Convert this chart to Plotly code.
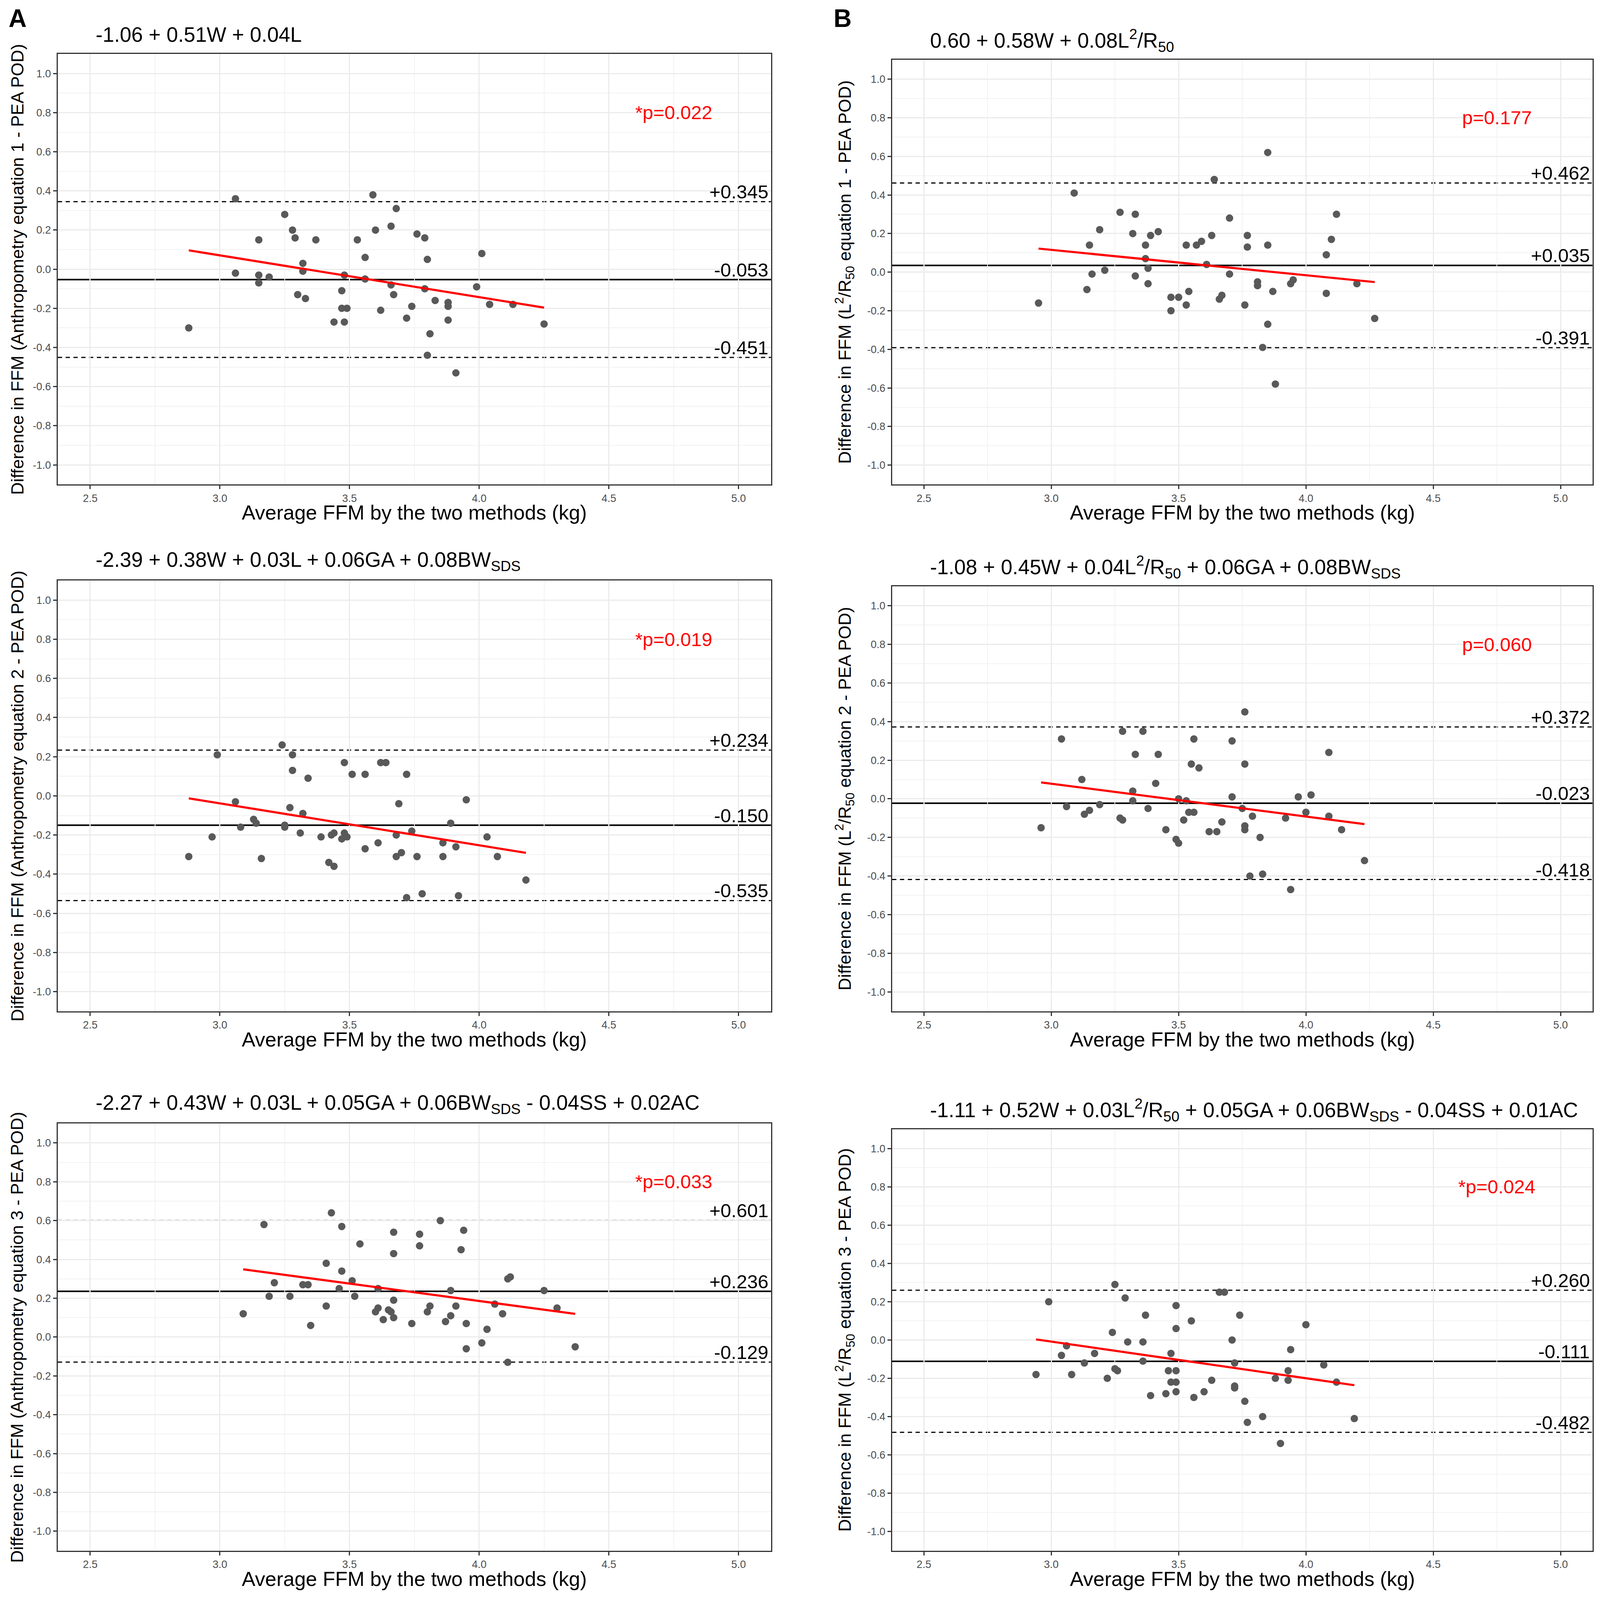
import numpy as np
import plotly.graph_objects as go

# ---------------- data ----------------
x_ticks = [2.5, 3.0, 3.5, 4.0, 4.5, 5.0]
y_ticks = [-1.0, -0.8, -0.6, -0.4, -0.2, 0.0, 0.2, 0.4, 0.6, 0.8, 1.0]

# A1 : anthropometry equation 1
a1_x = [3.06, 3.59, 3.68, 3.25, 3.28, 3.60, 3.66, 3.15, 3.29, 3.37, 3.53, 3.76, 3.79, 4.01, 3.56, 3.80, 3.32,
        3.32, 3.06, 3.15, 3.19, 3.15, 3.48, 3.56, 3.66, 3.79, 3.99, 3.47, 3.30, 3.33, 3.67, 3.83, 3.88, 3.88,
        3.74, 4.04, 4.13, 3.47, 3.49, 3.62, 3.72, 3.88, 3.44, 3.48, 4.25, 2.88, 3.81, 3.80, 3.91]
a1_y = [0.36, 0.38, 0.31, 0.28, 0.20, 0.20, 0.22, 0.15, 0.16, 0.15, 0.15, 0.18, 0.16, 0.08, 0.06, 0.05, 0.03,
        -0.01, -0.02, -0.03, -0.04, -0.07, -0.03, -0.05, -0.08, -0.10, -0.09, -0.11, -0.13, -0.15, -0.13, -0.16,
        -0.17, -0.19, -0.19, -0.18, -0.18, -0.20, -0.20, -0.21, -0.25, -0.26, -0.27, -0.27, -0.28, -0.30, -0.33,
        -0.44, -0.53]
a1_lines = [0.345, -0.053, -0.451]

# B1 : L2/R50 equation 1
b1_x = [3.85, 3.64, 3.09, 3.27, 3.33, 4.12, 3.70, 3.19, 3.32, 3.39, 3.42, 3.63, 3.77, 4.10, 3.15, 3.37, 3.53,
        3.57, 3.59, 3.77, 3.85, 4.08, 3.37, 3.61, 3.16, 3.21, 3.38, 3.33, 3.70, 3.38, 3.81, 3.81, 3.95, 3.94,
        4.20, 3.14, 3.54, 3.87, 4.08, 3.47, 3.50, 3.67, 3.66, 2.95, 3.53, 3.76, 3.47, 4.27, 3.85, 3.83, 3.88]
b1_y = [0.62, 0.48, 0.41, 0.31, 0.30, 0.30, 0.28, 0.22, 0.20, 0.19, 0.21, 0.19, 0.19, 0.17, 0.14, 0.14, 0.14,
        0.14, 0.16, 0.13, 0.14, 0.09, 0.07, 0.04, -0.01, 0.01, 0.02, -0.02, -0.01, -0.06, -0.05, -0.07, -0.04,
        -0.06, -0.06, -0.09, -0.10, -0.10, -0.11, -0.13, -0.13, -0.12, -0.14, -0.16, -0.17, -0.17, -0.20, -0.24,
        -0.27, -0.39, -0.58]
b1_lines = [0.462, 0.035, -0.391]

# A2 : anthropometry equation 2
a2_x = [3.24, 2.99, 3.28, 3.48, 3.62, 3.64, 3.51, 3.56, 3.72, 3.28, 3.34, 3.06, 3.69, 3.95, 3.27, 3.32, 3.13,
        3.14, 3.89, 3.25, 3.25, 3.08, 3.31, 3.74, 3.68, 3.44, 3.43, 3.48, 3.47, 3.49, 3.39, 2.97, 4.03, 3.86,
        3.61, 3.91, 3.56, 3.70, 3.68, 3.76, 3.86, 4.07, 2.88, 3.16, 3.42, 3.44, 4.18, 3.78, 3.92, 3.72]
a2_y = [0.26, 0.21, 0.21, 0.17, 0.17, 0.17, 0.11, 0.11, 0.11, 0.13, 0.09, -0.03, -0.04, -0.02, -0.06, -0.09,
        -0.12, -0.14, -0.14, -0.15, -0.16, -0.16, -0.19, -0.18, -0.20, -0.19, -0.20, -0.19, -0.22, -0.21, -0.21,
        -0.21, -0.21, -0.24, -0.24, -0.26, -0.27, -0.29, -0.31, -0.31, -0.31, -0.31, -0.31, -0.32, -0.34, -0.36,
        -0.43, -0.50, -0.51, -0.52]
a2_lines = [0.234, -0.150, -0.535]

# B2 : L2/R50 equation 2
b2_x = [3.76, 3.28, 3.36, 3.04, 3.56, 3.71, 4.09, 3.33, 3.42, 3.55, 3.58, 3.76, 3.12, 3.41, 3.32, 3.71, 3.97,
        4.02, 3.50, 3.53, 3.32, 3.06, 3.19, 3.38, 3.75, 3.15, 3.13, 3.54, 3.56, 4.00, 3.79, 3.92, 4.09, 3.27,
        3.28, 3.52, 3.67, 3.76, 3.76, 2.96, 3.45, 3.62, 3.65, 4.14, 3.82, 3.49, 3.50, 4.23, 3.83, 3.78, 3.94]
b2_y = [0.45, 0.35, 0.35, 0.31, 0.31, 0.30, 0.24, 0.23, 0.23, 0.18, 0.16, 0.18, 0.10, 0.08, 0.04, 0.01, 0.01,
        0.02, 0.00, -0.01, -0.01, -0.04, -0.03, -0.05, -0.05, -0.06, -0.08, -0.07, -0.07, -0.07, -0.09, -0.10,
        -0.09, -0.10, -0.11, -0.11, -0.12, -0.14, -0.16, -0.15, -0.16, -0.17, -0.17, -0.16, -0.20, -0.21, -0.23,
        -0.32, -0.39, -0.40, -0.47]
b2_lines = [0.372, -0.023, -0.418]

# A3 : anthropometry equation 3
a3_x = [3.43, 3.85, 3.17, 3.47, 3.67, 3.94, 3.77, 3.54, 3.77, 3.93, 3.67, 3.41, 3.47, 4.12, 4.11, 3.21, 3.51,
        3.32, 3.34, 3.46, 3.61, 3.89, 4.25, 3.19, 3.27, 3.52, 3.67, 4.06, 3.41, 3.81, 3.61, 3.91, 4.30, 3.60,
        3.65, 3.66, 3.80, 3.09, 4.09, 3.89, 3.63, 3.67, 3.87, 3.95, 3.74, 3.35, 4.03, 4.01, 4.37, 3.95, 4.11]
a3_y = [0.64, 0.60, 0.58, 0.57, 0.54, 0.55, 0.53, 0.48, 0.47, 0.45, 0.43, 0.38, 0.34, 0.31, 0.30, 0.28, 0.29,
        0.27, 0.27, 0.25, 0.25, 0.24, 0.24, 0.21, 0.21, 0.21, 0.19, 0.17, 0.16, 0.16, 0.15, 0.16, 0.15, 0.13,
        0.14, 0.13, 0.13, 0.12, 0.12, 0.11, 0.09, 0.10, 0.08, 0.07, 0.07, 0.06, 0.04, -0.03, -0.05, -0.06, -0.13]
a3_lines = [0.601, 0.236, -0.129]

# B3 : L2/R50 equation 3
b3_x = [3.25, 3.66, 3.68, 2.99, 3.29, 3.49, 3.37, 3.74, 3.55, 4.00, 3.49, 3.24, 3.71, 3.30, 3.36, 3.94, 3.06,
        3.04, 3.17, 3.47, 3.13, 3.36, 3.72, 4.07, 2.94, 3.08, 3.25, 3.26, 3.46, 3.49, 3.93, 3.22, 3.63, 3.88,
        3.93, 4.12, 3.47, 3.49, 3.72, 3.72, 3.49, 3.60, 3.39, 3.45, 3.56, 3.76, 3.83, 3.77, 4.19, 3.90]
b3_y = [0.29, 0.25, 0.25, 0.20, 0.22, 0.18, 0.13, 0.13, 0.10, 0.08, 0.06, 0.04, 0.00, -0.01, -0.01, -0.05,
        -0.03, -0.08, -0.07, -0.07, -0.12, -0.11, -0.12, -0.13, -0.18, -0.18, -0.15, -0.16, -0.16, -0.16, -0.16,
        -0.20, -0.21, -0.20, -0.21, -0.22, -0.22, -0.22, -0.24, -0.25, -0.27, -0.27, -0.29, -0.28, -0.30, -0.32,
        -0.40, -0.43, -0.41, -0.54]
b3_lines = [0.260, -0.111, -0.482]

equations = [
    "-1.06 + 0.51W + 0.04L",
    "0.60 + 0.58W + 0.08L<sup>2</sup>/R<sub>50</sub>",
    "-2.39 + 0.38W + 0.03L + 0.06GA + 0.08BW<sub>SDS</sub>",
    "-1.08 + 0.45W + 0.04L<sup>2</sup>/R<sub>50</sub> + 0.06GA + 0.08BW<sub>SDS</sub>",
    "-2.27 + 0.43W + 0.03L + 0.05GA + 0.06BW<sub>SDS</sub> - 0.04SS + 0.02AC",
    "-1.11 + 0.52W + 0.03L<sup>2</sup>/R<sub>50</sub> + 0.05GA + 0.06BW<sub>SDS</sub> - 0.04SS + 0.01AC",
]
p_labels = ["*p=0.022", "p=0.177", "*p=0.019", "p=0.060", "*p=0.033", "*p=0.024"]
y_titles = [
    "Difference in FFM (Anthropometry equation 1 - PEA POD)",
    "Difference in FFM (L<sup>2</sup>/R<sub>50</sub> equation 1 - PEA POD)",
    "Difference in FFM (Anthropometry equation 2 - PEA POD)",
    "Difference in FFM (L<sup>2</sup>/R<sub>50</sub> equation 2 - PEA POD)",
    "Difference in FFM (Anthropometry equation 3 - PEA POD)",
    "Difference in FFM (L<sup>2</sup>/R<sub>50</sub> equation 3 - PEA POD)",
]
x_title = "Average FFM by the two methods (kg)"

# ---------------- layout ----------------
FONT = "Liberation Sans, Arial, sans-serif"
col_a = [0.0343, 0.4818]
col_b = [0.5578, 0.9972]
dom_y = [[0.6980, 0.9681], [0.6980, 0.9644],
         [0.3675, 0.6377], [0.3675, 0.6340],
         [0.0290, 0.2970], [0.0290, 0.2933]]

panels = [
    (a1_x, a1_y, a1_lines), (b1_x, b1_y, b1_lines),
    (a2_x, a2_y, a2_lines), (b2_x, b2_y, b2_lines),
    (a3_x, a3_y, a3_lines), (b3_x, b3_y, b3_lines),
]

fig = go.Figure()
layout_axes = {}

for i, (px, py, lines) in enumerate(panels):
    n = i + 1
    xa = "x" if n == 1 else "x%d" % n
    ya = "y" if n == 1 else "y%d" % n
    col_b_side = i % 2 == 1
    dom_x = col_b if col_b_side else col_a

    fig.add_trace(go.Scatter(x=px, y=py, mode="markers", xaxis=xa, yaxis=ya,
                             marker=dict(color="#595959", size=19, line=dict(width=0)),
                             showlegend=False, hoverinfo="skip"))

    # linear fit of the points (red line)
    k, b = np.polyfit(px, py, 1)
    xs = np.array([min(px), max(px)])
    fig.add_trace(go.Scatter(x=xs, y=k * xs + b, mode="lines", xaxis=xa, yaxis=ya,
                             line=dict(color="#ff0000", width=5.5), showlegend=False, hoverinfo="skip"))

    # mean and limits of agreement
    for v, dash, wd in zip(lines, ["11px,9px", "solid", "11px,9px"], [3, 4, 3]):
        fig.add_shape(type="line", xref=xa + " domain", x0=0, x1=1, yref=ya, y0=v, y1=v,
                      line=dict(color="black", width=wd, dash=dash), layer="below")
        fig.add_annotation(text="%+.3f" % v, xref=xa + " domain", yref=ya, x=1, y=v,
                           xanchor="right", yanchor="bottom", xshift=-5, yshift=-4, showarrow=False,
                           font=dict(family=FONT, size=49, color="black"))

    fig.add_annotation(text=p_labels[i], xref=xa, yref=ya, x=4.75, y=0.8, showarrow=False,
                       xanchor="center", yanchor="middle", font=dict(family=FONT, size=49, color="#ff0000"))

    fig.add_annotation(text=equations[i], xref=xa + " domain", yref=ya + " domain", x=0, y=1,
                       xanchor="left", yanchor="middle", xshift=95, yshift=50, showarrow=False,
                       font=dict(family=FONT, size=53, color="black"))

    fig.add_annotation(text=y_titles[i], xref=xa + " domain", yref=ya + " domain", x=0, y=0.5,
                       textangle=-90, xanchor="center", yanchor="middle",
                       xshift=-122 if col_b_side else -104, showarrow=False,
                       font=dict(family=FONT, size=45, color="black"))

    fig.add_annotation(text=x_title, xref=xa + " domain", yref=ya + " domain", x=0.5, y=0,
                       xanchor="center", yanchor="middle", yshift=-72, showarrow=False,
                       font=dict(family=FONT, size=52, color="black"))

    common = dict(showline=True, mirror=True, linecolor="#333333", linewidth=3,
                  ticks="outside", ticklen=9, tickwidth=3, tickcolor="#333333",
                  tickfont=dict(family=FONT, size=27, color="#4d4d4d"),
                  showgrid=True, gridcolor="#ebebeb", gridwidth=3, zeroline=False)
    layout_axes["xaxis" if n == 1 else "xaxis%d" % n] = dict(
        common, domain=dom_x, anchor=ya, range=[2.375, 5.125],
        tickmode="array", tickvals=x_ticks, ticktext=["%.1f" % t for t in x_ticks],
        minor=dict(tickmode="linear", tick0=2.25, dtick=0.25, showgrid=True,
                   gridcolor="#f2f2f2", gridwidth=1.5, ticks=""))
    layout_axes["yaxis" if n == 1 else "yaxis%d" % n] = dict(
        common, domain=dom_y[i], anchor=xa, range=[-1.1, 1.1],
        tickmode="array", tickvals=y_ticks, ticktext=["%.1f" % t for t in y_ticks],
        minor=dict(tickmode="linear", tick0=-1.1, dtick=0.1, showgrid=True,
                   gridcolor="#f2f2f2", gridwidth=1.5, ticks=""))

# panel letters
for letter, lx in [("A", 0.0090), ("B", 0.5268)]:
    fig.add_annotation(text="<b>%s</b>" % letter, xref="paper", yref="paper", x=lx, y=0.9905,
                       xanchor="center", yanchor="middle", showarrow=False,
                       font=dict(family=FONT, size=64, color="black"))

# the figure fills the browser window
fig.update_layout(autosize=True, margin=dict(l=0, r=0, t=0, b=0),
                  paper_bgcolor="white", plot_bgcolor="white",
                  font=dict(family=FONT), **layout_axes)

fig.write_html("out.html", default_width="100%", default_height="calc(100vh - 16px)")
